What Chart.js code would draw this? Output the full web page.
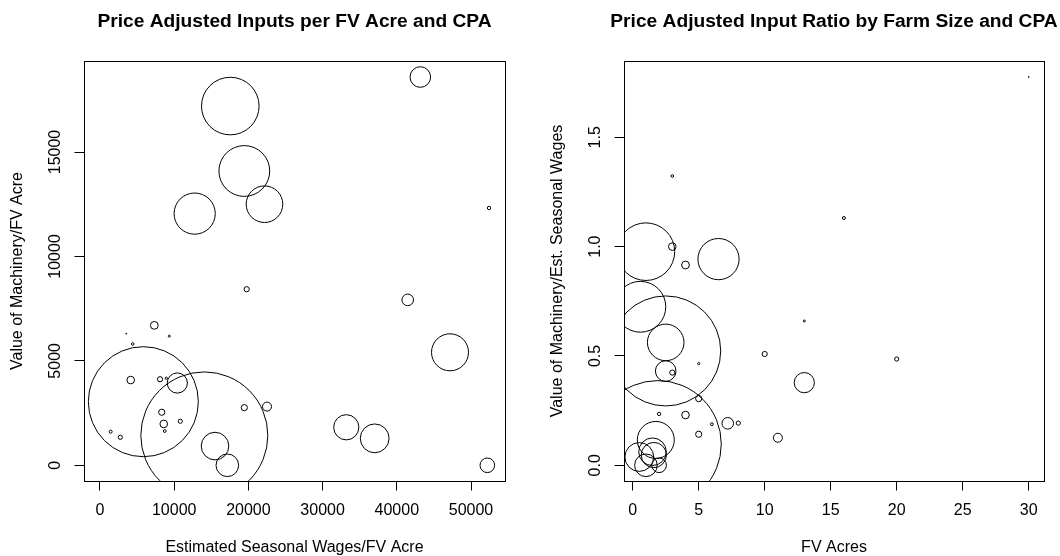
<!DOCTYPE html>
<html>
<head>
<meta charset="utf-8">
<title>Price Adjusted Inputs and CPA</title>
<script src="https://cdn.jsdelivr.net/npm/chart.js@4.4.1/dist/chart.umd.min.js"></script>
<style>
  html, body { margin: 0; padding: 0; background: #fff; overflow: hidden; }
  .row { display: flex; width: 1060px; height: 556px; }
  canvas { display: block; }
</style>
</head>
<body>
<div class="row">
  <canvas id="inputsChart" width="530" height="560"></canvas>
  <canvas id="ratioChart" width="530" height="560"></canvas>
</div>
<script>
// one entry per farm, same order in every array
const wagesPerAcre = [17560, 19450, 12760, 22170, 19770, 43170, 52430, 41470, 47170, 33190,
    37020, 52200, 7320, 9340, 4410, 3540, 5840, 14060, 4140, 8090,
    8940, 10420, 8320, 8590, 8720, 10820, 1440, 2740, 15500, 17160,
    19450, 22510]
const machineryPerAcre = [17200, 14090, 12050, 12500, 8430, 18590, 12320, 7920, 5410, 1820,
    1290, 0, 6700, 6180, 5810, 6300, 3045, 1430, 4080, 4120,
    4170, 3940, 2540, 1980, 1640, 2110, 1610, 1340, 920, 0,
    2760, 2810]
const fvAcres = [1, 0.58, 6.5, 2.5, 3, 2.5, 2, 7.2, 1.75, 1.6,
    0.5, 2, 4, 13, 3, 30, 2.5, 1.9, 3, 10,
    5, 13, 5, 4, 6, 8, 16, 20, 1.5, 1,
    5, 11]
const machineryToWages = [0.977, 0.725, 0.943, 0.562, 0.424, 0.431, 0.235, 0.192, 0.116, 0.047,
    0.038, 0, 0.916, 0.66, 1.323, 1.776, 0.523, 0.097, 1.0, 0.509,
    0.465, 0.378, 0.305, 0.23, 0.188, 0.193, 1.131, 0.486, 0.062, 0,
    0.142, 0.126]
const cpa = [28.8, 25.4, 20.6, 18.3, 2.6, 10.3, 1.7, 5.8, 18.5, 12.6,
    14.4, 7.3, 3.9, 1.0, 1.3, 0.5, 55, 63.5, 3.8, 2.6,
    1.1, 10.1, 3.1, 3.8, 1.4, 2.1, 1.5, 2.1, 13.8, 11.3,
    3.1, 4.5]

const inputsXTicks = [0, 10000, 20000, 30000, 40000, 50000]
const inputsYTicks = [0, 5000, 10000, 15000]
const ratioXTicks = [0, 5, 10, 15, 20, 25, 30]
const ratioYTicks = [0, 0.5, 1.0, 1.5]

// largest circle gets the full radius, like symbols(..., inches = TRUE)
const MAX_RADIUS = 63.5
const maxCpa = Math.max(...cpa)
const radius = (c) => MAX_RADIUS * c / maxCpa

const FONT = '"Liberation Sans", Arial, Helvetica, sans-serif'
Chart.defaults.font.family = FONT
Chart.defaults.color = '#000'

// frame round the plot region, title centred over it (may run past the frame)
const plotBox = {
    id: 'plotBox',
    afterDatasetsDraw(chart, args, opts) {
        const { ctx, chartArea: a } = chart
        ctx.save()
        ctx.strokeStyle = '#000'
        ctx.lineWidth = 1
        ctx.strokeRect(Math.round(a.left) + 0.5, Math.round(a.top) + 0.5,
            Math.round(a.right - a.left), Math.round(a.bottom - a.top))
        ctx.fillStyle = '#000'
        ctx.font = 'bold 19.2px ' + FONT
        ctx.textAlign = 'center'
        ctx.textBaseline = 'alphabetic'
        ctx.fillText(opts.title, (a.left + a.right) / 2, 27)
        ctx.restore()
    }
}

const makeChart = (id, cfg) => {
    const points = cfg.xs.map((x, i) => ({ x: x, y: cfg.ys[i], r: radius(cpa[i]) }))
    const axis = (ticks, format) => ({
        type: 'linear',
        afterBuildTicks: (scale) => { scale.ticks = ticks.map(v => ({ value: v })) },
        grid: { drawOnChartArea: false, drawTicks: true, tickLength: 9.5, color: '#000', lineWidth: 1 },
        border: { display: true, color: '#000', width: 1 },
        ticks: { autoSkip: false, color: '#000', font: { size: 16 }, callback: format }
    })
    const x = axis(cfg.xTicks, cfg.xFormat)
    x.min = cfg.xRange[0]
    x.max = cfg.xRange[1]
    x.ticks.maxRotation = 0
    x.ticks.padding = 10.9
    x.afterFit = (scale) => { scale.height = 79 }
    x.title = { display: true, text: cfg.xLabel, font: { size: 16 }, color: '#000', padding: { top: 0, bottom: 2.4 } }

    const y = axis(cfg.yTicks, cfg.yFormat)
    y.min = cfg.yRange[0]
    y.max = cfg.yRange[1]
    y.ticks.minRotation = 90
    y.ticks.maxRotation = 90
    y.ticks.crossAlign = 'center'
    y.ticks.padding = cfg.yTickPad
    y.afterFit = (scale) => { scale.width = cfg.yWidth }
    y.title = { display: true, text: cfg.yLabel, font: { size: 16 }, color: '#000', padding: { top: cfg.yTitlePad, bottom: 0 } }

    return new Chart(document.getElementById(id), {
        type: 'bubble',
        data: {
            datasets: [{
                data: points,
                backgroundColor: 'rgba(0,0,0,0)',
                borderColor: '#000',
                borderWidth: 1,
                hoverBorderWidth: 1,
                clip: 0
            }]
        },
        options: {
            responsive: false,
            animation: false,
            devicePixelRatio: 1,
            events: [],
            layout: { autoPadding: false, padding: { left: 0, right: cfg.rightPad, top: 61, bottom: 0 } },
            plugins: {
                legend: { display: false },
                tooltip: { enabled: false },
                title: { display: false },
                plotBox: { title: cfg.title }
            },
            scales: { x: x, y: y }
        },
        plugins: [plotBox]
    })
}

makeChart('inputsChart', {
    title: 'Price Adjusted Inputs per FV Acre and CPA',
    xLabel: 'Estimated Seasonal Wages/FV Acre',
    yLabel: 'Value of Machinery/FV Acre',
    xs: wagesPerAcre,
    ys: machineryPerAcre,
    xTicks: inputsXTicks,
    yTicks: inputsYTicks,
    xRange: [-2156, 54582],
    yRange: [-752, 19357],
    xFormat: (v) => String(v),
    yFormat: (v) => String(v),
    yWidth: 84,
    rightPad: 25,
    yTickPad: -3.4,
    yTitlePad: 7.9
})

makeChart('ratioChart', {
    title: 'Price Adjusted Input Ratio by Farm Size and CPA',
    xLabel: 'FV Acres',
    yLabel: 'Value of Machinery/Est. Seasonal Wages',
    xs: fvAcres,
    ys: machineryToWages,
    xTicks: ratioXTicks,
    yTicks: ratioYTicks,
    xRange: [-0.66, 31.16],
    yRange: [-0.0718, 1.849],
    xFormat: (v) => String(v),
    yFormat: (v) => v.toFixed(1),
    yWidth: 94,
    rightPad: 16,
    yTickPad: 7.7,
    yTitlePad: 17.9
})
</script>
</body>
</html>
